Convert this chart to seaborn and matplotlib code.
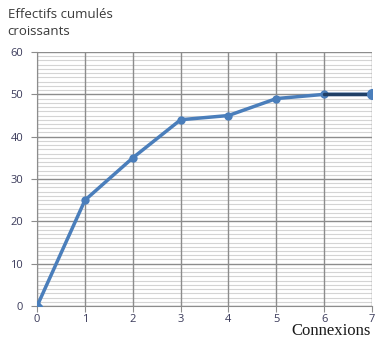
import matplotlib
matplotlib.use('Agg')
import matplotlib.pyplot as plt
import seaborn as sns
import pandas as pd
from matplotlib.ticker import MultipleLocator

# Data
connexions = [0, 1, 2, 3, 4, 5, 6, 7]
effectifs = [0, 25, 35, 44, 45, 49, 50, 50]
df = pd.DataFrame({'Connexions': connexions, 'Effectifs': effectifs})

sns.set_style('white')
plt.rcParams['font.family'] = ['Open Sans', 'DejaVu Sans']

fig = plt.figure(figsize=(3.75, 3.4), dpi=100)
ax = fig.add_axes([0.099, 0.1, 0.893, 0.747])

sns.lineplot(data=df, x='Connexions', y='Effectifs', ax=ax, color='#4a7ebb',
             linewidth=2.5, marker='o', markersize=6, markeredgewidth=0, zorder=3)
# last segment drawn darker
sns.lineplot(data=df.iloc[6:], x='Connexions', y='Effectifs', ax=ax, color='#1f3f66',
             linewidth=2.5, zorder=3)
ax.plot(df['Connexions'].iloc[-1], df['Effectifs'].iloc[-1], 'o', color='#4a7ebb',
        markersize=7, zorder=4)
ax.plot(0, 0, 'D', color='#4a7ebb', markersize=5, zorder=4)

ax.set_xlim(0, 7)
ax.set_ylim(0, 60)
ax.xaxis.set_major_locator(MultipleLocator(1))
ax.yaxis.set_major_locator(MultipleLocator(10))
ax.yaxis.set_minor_locator(MultipleLocator(1))
ax.grid(which='minor', axis='y', color='#d4d4d4', linewidth=0.8)
ax.grid(which='major', axis='y', color='#8c8c8c', linewidth=1.0)
# vertical grid lines drawn above the minor horizontal ones
ax.vlines(connexions, 0, 60, color='#8c8c8c', linewidth=1.0, zorder=1.5)
ax.set_axisbelow(True)

for s in ['top', 'right']:
    ax.spines[s].set_visible(False)
ax.spines['left'].set_color('#8c8c8c')
ax.spines['bottom'].set_color('#8c8c8c')

ax.tick_params(axis='both', which='major', labelsize=8, labelcolor='#3a3a5a',
               length=4, color='#8c8c8c', direction='out')
ax.tick_params(axis='y', which='major', left=True, pad=6)
ax.tick_params(axis='x', which='major', bottom=True, pad=1.5)
ax.tick_params(which='minor', length=0)
ax.set_xlabel('')
ax.set_ylabel('')
ax.set_xlim(0, 7)
ax.set_ylim(0, 60)

fig.text(0.02, 0.975, 'Effectifs cumulés\ncroissants', fontsize=9.5, color='#3a3a3a',
         va='top', ha='left', linespacing=1.35)
fig.text(0.988, 0.002, 'Connexions', fontsize=12, family='Liberation Serif',
         color='#1a1a1a', ha='right', va='bottom')

fig.savefig('out.png', dpi=100)
